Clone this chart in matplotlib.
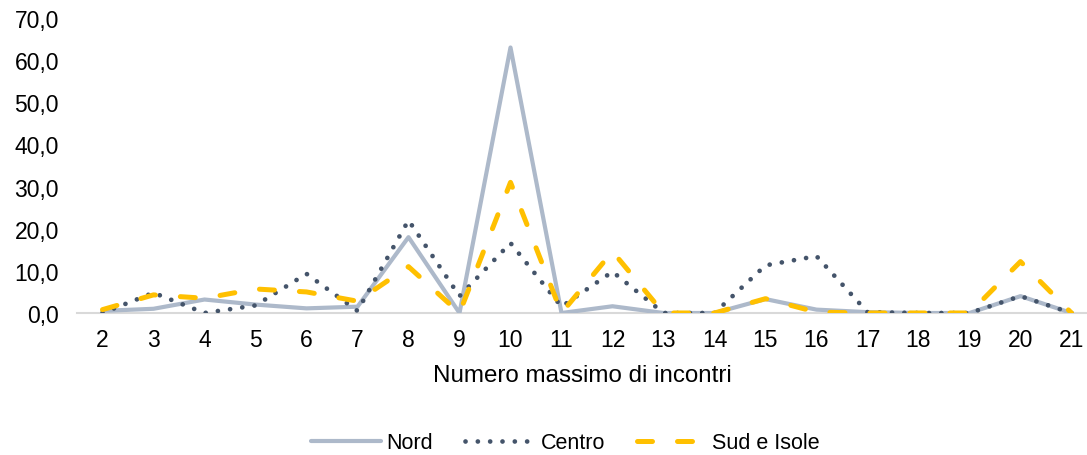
import matplotlib.pyplot as plt
from matplotlib.ticker import FuncFormatter

plt.rcParams['font.family'] = ['Liberation Sans', 'DejaVu Sans']

# numero massimo di incontri
incontri = list(range(2, 22))

nord = [0.5, 1.0, 3.2, 2.0, 1.1, 1.5, 18.0, 0.0, 63.0, 0.0,
        1.6, 0.0, 0.0, 3.3, 0.8, 0.2, 0.0, 0.0, 4.0, 0.0]
centro = [0.0, 4.8, 0.0, 1.8, 9.3, 0.5, 22.0, 4.0, 16.6, 1.5,
          9.8, 0.0, 0.0, 11.3, 13.5, 0.2, 0.0, 0.0, 4.0, 0.0]
sud = [0.8, 4.3, 3.5, 5.7, 5.0, 2.8, 11.0, 0.0, 31.0, 0.0,
       14.6, 0.0, 0.0, 3.4, 0.2, 0.0, 0.0, 0.0, 12.2, 0.0]

W, H = 1087, 456
fig = plt.figure(figsize=(W / 100, H / 100), dpi=100)
ax = fig.add_axes([77 / W, 142 / H, (1087 - 77) / W, (437 - 142) / H])

ax.plot(incontri, nord, color='#ADB9CA', lw=3, label='Nord', solid_capstyle='round')
ax.plot(incontri, centro, color='#44546A', lw=3.4, linestyle=(0, (0.01, 2.6)),
        dash_capstyle='round', label='Centro')
ax.plot(incontri, sud, color='#FFC000', lw=3.6, linestyle=(0, (3, 5)),
        dash_capstyle='round', label='Sud e Isole')

ax.set_xlim(1.5, 1.5 + (1087 - 77) / 51)
ax.set_ylim(0, 70)
ax.set_xticks(incontri)
ax.set_yticks(range(0, 80, 10))
ax.yaxis.set_major_formatter(FuncFormatter(lambda v, p: f'{v:.1f}'.replace('.', ',')))
ax.tick_params(length=0, labelsize=16.5, colors='black')
ax.tick_params(axis='x', pad=11)
ax.tick_params(axis='y', pad=13)

for s in ['top', 'right', 'left']:
    ax.spines[s].set_visible(False)
ax.spines['bottom'].set_color('#D9D9D9')
ax.spines['bottom'].set_linewidth(1.5)
ax.spines['bottom'].set_zorder(0)

ax.set_xlabel('Numero massimo di incontri', fontsize=17.4, labelpad=9)

fig.legend(loc='center', bbox_to_anchor=(0.5 + 22 / W, 1 - 444 / H), ncol=3, frameon=False,
           fontsize=15.5, handlelength=3.25, columnspacing=1.5, handletextpad=0.25)

fig.savefig('out.png', dpi=100)
